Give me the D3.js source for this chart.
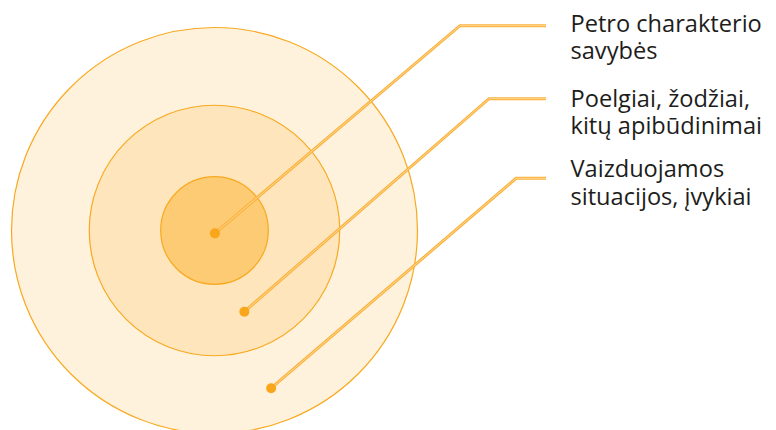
<!DOCTYPE html>
<html><head><meta charset="utf-8">
<script src="https://cdn.jsdelivr.net/npm/d3@7"></script>
<style>body{margin:0;background:#fff;}svg{display:block;}</style>
</head><body>
<svg id="c" width="776" height="430"></svg>
<script>
// Ring radii (relative to outer ring = 1)
const ringNames = ["Aplinka", "Veiksmai", "Branduolys"];
const ringRadii = [1, 0.617, 0.265];
const ringFills = ["#fff2dd", "#fee5bb", "#fdcb74"];
// Dots: position relative to the centre, in units of outer radius
const dotDX = [0.002, 0.147, 0.279];
const dotDY = [0.014, 0.400, 0.777];
// Label lines: elbow x, label row (y of horizontal leader)
const elbowX = [460, 489, 516];
const leaderY = [25.7, 98.7, 178.3];
const labelLines = [
  ["Petro charakterio", "savybės"],
  ["Poelgiai, žodžiai,", "kitų apibūdinimai"],
  ["Vaizduojamos", "situacijos, įvykiai"]
];
const labelBaselines = [31.5, 106.5, 177.3];

const svg = d3.select("#c");
const cx = 214.5, cy = 230.5, R = 203;
const x = d3.scaleLinear().domain([0, 1]).range([cx, cx + R]);
const y = d3.scaleLinear().domain([0, 1]).range([cy, cy + R]);
const r = d3.scaleLinear().domain([0, 1]).range([0, R]);
const orange = "#f8a91f";

svg.selectAll("circle.ring").data(ringRadii).join("circle")
  .attr("class", "ring")
  .attr("cx", x(0)).attr("cy", y(0))
  .attr("r", d => r(d))
  .attr("fill", (d, i) => ringFills[i])
  .attr("stroke", orange).attr("stroke-width", 1.2);

const lineData = dotDX.map((d, i) => [
  [x(d), y(dotDY[i])],
  [elbowX[i], leaderY[i]],
  [546, leaderY[i]]
]);
const lineGen = d3.line();
svg.selectAll("path.lo").data(lineData).join("path")
  .attr("class", "lo").attr("d", lineGen)
  .attr("fill", "none").attr("stroke", "#fbb13c").attr("stroke-width", 3);
svg.selectAll("path.li").data(lineData).join("path")
  .attr("class", "li").attr("d", lineGen)
  .attr("fill", "none").attr("stroke", "#ffd890").attr("stroke-width", 1);

svg.selectAll("circle.dot").data(dotDX).join("circle")
  .attr("class", "dot")
  .attr("cx", (d) => x(d)).attr("cy", (d, i) => y(dotDY[i]))
  .attr("r", 5).attr("fill", "#f9a61a");

const tg = svg.selectAll("text.lab").data(labelLines).join("text")
  .attr("class", "lab")
  .attr("x", 570.5).attr("y", (d, i) => labelBaselines[i])
  .attr("font-family", "'Open Sans', sans-serif")
  .attr("font-size", 23.6)
  .attr("fill", "#1d1d1b");
tg.selectAll("tspan").data(d => d).join("tspan")
  .attr("x", 570.5).attr("dy", (d, i) => i === 0 ? 0 : 27.6)
  .text(d => d);
</script>
</body></html>
